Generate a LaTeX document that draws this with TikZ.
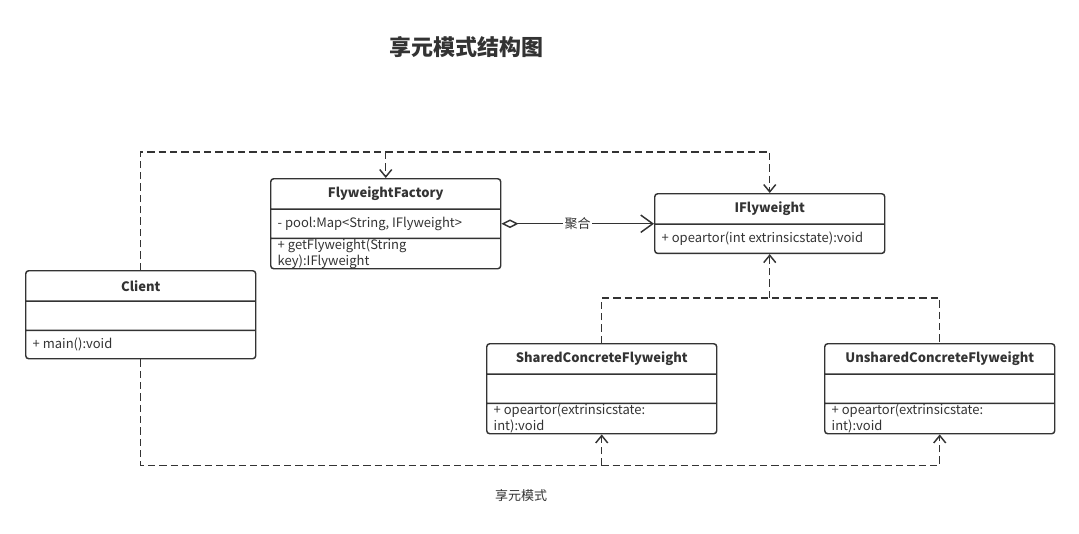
\documentclass[tikz,border=0pt]{standalone}
\usepackage{fontspec}
\setmainfont{Noto Sans CJK SC}
\usetikzlibrary{shapes.multipart,arrows.meta,positioning}
\definecolor{umlline}{HTML}{333333}
\newlength\pxu
\setlength\pxu{0.75pt}
% one compartment of a class box: height, alignment, text
\newcommand\umlrow[3]{\parbox[c][\dimexpr#1\pxu-1.6pt\relax][c]{216\pxu}{#2#3}}
\newcommand\umlhead[1]{\umlrow{31}{\centering\bfseries}{#1}}

\begin{document}
\begin{tikzpicture}[x=0.75pt, y=-0.75pt,
    >={Straight Barb[length=5.5pt,width=9pt]},
    every node/.style={font=\fontsize{9.75}{12}\selectfont, text=umlline},
    umlclass/.style={draw=umlline, line width=1.1pt, rounded corners=3\pxu,
      rectangle split, rectangle split parts=3, inner xsep=7\pxu,
      inner ysep=0pt, anchor=north west},
    depend/.style={draw=umlline, line width=1.1pt, dash pattern=on 5.5pt off 3pt},
    aggregate/.style={draw=umlline, line width=1.1pt}]
    \useasboundingbox (0,0) rectangle (1079,533);

    \node [font=\bfseries\fontsize{16.5}{20}\selectfont] (title) at (466,47) {享元模式结构图};

    \node [umlclass] (client) at (25,270) {\umlhead{Client}
      \nodepart{two}\umlrow{30}{}{}
      \nodepart{three}\umlrow{29}{\raggedright}{+ main():void}};
    \node [umlclass] (factory) at (270,178) {\umlhead{FlyweightFactory}
      \nodepart{two}\umlrow{30}{\raggedright}{- pool:Map<String, IFlyweight>}
      \nodepart{three}\umlrow{31}{\raggedright}{+ getFlyweight(String\\key):IFlyweight}};
    \node [umlclass, rectangle split parts=2] (iflyweight) at (654,193) {\umlhead{IFlyweight}
      \nodepart{two}\umlrow{30}{\raggedright}{+ opeartor(int extrinsicstate):void}};
    \node [umlclass] (shared) at (486,343) {\umlhead{SharedConcreteFlyweight}
      \nodepart{two}\umlrow{30}{}{}
      \nodepart{three}\umlrow{31}{\raggedright}{+ opeartor(extrinsicstate:\\int):void}};
    \node [umlclass] (unshared) at (824,343) {\umlhead{UnsharedConcreteFlyweight}
      \nodepart{two}\umlrow{30}{}{}
      \nodepart{three}\umlrow{31}{\raggedright}{+ opeartor(extrinsicstate:\\int):void}};

    \node (caption) at (521,496) {享元模式};

    % client uses factory and flyweight
    \path (client.north) ++(0,-118) coordinate (topbus);
    \draw [depend,->] (client.north) -- (topbus) -| (iflyweight.north);
    \draw [depend,->] (topbus -| factory.north) -- (factory.north);
    \draw [depend,->] (client.south) -- ++(0,106) coordinate (lowbus) -| (unshared.south);
    \draw [depend,->] (lowbus -| shared.south) -- (shared.south);
    % concrete flyweights
    \path (shared.north) ++(0,-45) coordinate (midbus);
    \draw [depend] (shared.north) -- (midbus) -| (unshared.north);
    \draw [depend,->] (midbus -| iflyweight.south) -- (iflyweight.south);
    % aggregation
    \draw [aggregate, {Diamond[open,length=12.75pt,width=6.5pt]}-{Straight Barb[length=9pt,width=13pt]}]
      (factory.two east) -- node [fill=white, inner sep=1pt] {聚合} (factory.two east -| iflyweight.west);
\end{tikzpicture}
\end{document}
